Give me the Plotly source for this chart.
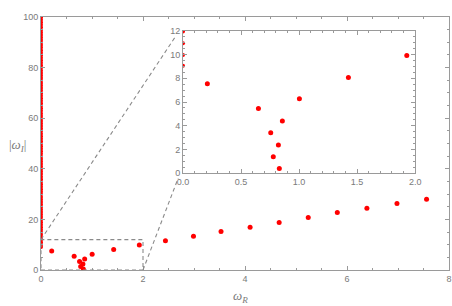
import plotly.graph_objects as go

# Complex modes: real part and |imaginary part|
omega_R = [0.21, 0.65, 0.756, 0.778, 0.822, 0.83, 0.856, 1.003, 1.425, 1.928,
           2.44, 2.99, 3.53, 4.10, 4.67, 5.24, 5.81, 6.39, 6.98, 7.56]
omega_I = [7.55, 5.46, 3.40, 1.38, 2.38, 0.38, 4.39, 6.27, 8.06, 9.92,
           11.6, 13.3, 15.2, 16.9, 18.8, 20.8, 22.7, 24.4, 26.3, 28.0]

# Purely imaginary modes (omega_R = 0)
imag_only = [9.06, 9.96, 10.95, 11.95, 12.9, 13.9, 14.9, 15.9, 16.9, 17.9, 18.9, 19.9,
             20.9, 21.9, 22.9, 23.9, 24.9, 25.9, 26.9, 27.9, 28.9, 29.9,
             30.9, 31.9, 32.9, 33.9, 34.9, 35.9, 36.9, 37.9, 38.9, 39.9,
             40.9, 41.9, 42.9, 43.9, 44.9, 45.9, 46.9, 47.9, 48.9, 49.9,
             50.9, 51.9, 52.9, 53.9, 54.9, 55.9, 56.9, 57.9, 58.9, 59.9,
             60.9, 61.9, 62.9, 63.9, 64.9, 65.9, 66.9, 67.9, 68.9, 69.9,
             70.9, 71.9, 72.9, 73.9, 74.9, 75.9, 76.9, 77.9, 78.9, 79.9,
             80.9, 81.9, 82.9, 83.9, 84.9, 85.9, 86.9, 87.9, 88.9, 89.9,
             90.9, 91.9, 92.9, 93.9, 94.9, 95.9, 96.9, 97.9, 98.9, 99.9]
imag_zero = [0.0] * len(imag_only)

main_xticks = [0, 2, 4, 6, 8]
main_yticks = [0, 20, 40, 60, 80, 100]
inset_xticks = [0.0, 0.5, 1.0, 1.5, 2.0]
inset_yticks = [0, 2, 4, 6, 8, 10, 12]

RED = "#ff0000"
AX = "#9a9a9a"
TXT = "#7a7a7a"
FONT = dict(family="Liberation Sans, Arial, sans-serif", size=9, color=TXT)

fig = go.Figure()
for xa, ya in (("x", "y"), ("x2", "y2")):
    fig.add_trace(go.Scatter(x=imag_zero, y=imag_only, mode="markers", xaxis=xa, yaxis=ya,
                             marker=dict(color=RED, size=4, line=dict(width=0)),
                             showlegend=False))
    fig.add_trace(go.Scatter(x=omega_R, y=omega_I, mode="markers", xaxis=xa, yaxis=ya,
                             marker=dict(color=RED, size=5, line=dict(width=0)),
                             showlegend=False))

def axis_common(**kw):
    d = dict(showgrid=False, zeroline=False, showline=True, linecolor=AX, linewidth=1,
             mirror="allticks", ticks="inside", ticklen=4, tickcolor=AX, tickwidth=1,
             tickfont=FONT, automargin=False)
    d.update(kw)
    return d

fig.update_layout(
    width=452, height=306, autosize=False,
    margin=dict(l=41, r=3, t=17, b=36, autoexpand=False),
    paper_bgcolor="white", plot_bgcolor="white",
    xaxis=axis_common(range=[0, 8], tickvals=main_xticks, domain=[0, 1],
                      minor=dict(ticks="inside", ticklen=2, dtick=0.5, tickcolor=AX)),
    yaxis=axis_common(range=[0, 100], tickvals=main_yticks, domain=[0, 1],
                      minor=dict(ticks="inside", ticklen=2, dtick=5, tickcolor=AX)),
    xaxis2=axis_common(range=[0, 2], tickvals=inset_xticks, tickformat=".1f",
                       domain=[0.348, 0.917], anchor="y2",
                       minor=dict(ticks="inside", ticklen=2, dtick=0.1, tickcolor=AX)),
    yaxis2=axis_common(range=[0, 12], tickvals=inset_yticks,
                       domain=[0.383, 0.945], anchor="x2",
                       minor=dict(ticks="inside", ticklen=2, dtick=0.5, tickcolor=AX)),
)

dash = dict(color="#8a8a8a", width=1.1, dash="4px,3px")
fig.add_shape(type="rect", xref="x", yref="y", x0=0, y0=0, x1=2, y1=12, line=dash)
fig.add_shape(type="line", xref="x", yref="y", x0=0, y0=12, x1=2.65, y1=92.7, line=dash)
fig.add_shape(type="line", xref="x", yref="y", x0=2, y0=0, x1=2.69, y1=36.3, line=dash)

fig.add_annotation(xref="paper", yref="paper", x=-0.033, y=0.494, xanchor="right", yanchor="middle",
                   text="|<i>ω</i><sub><i>I</i></sub>|", showarrow=False,
                   font=dict(family="Liberation Serif, serif", size=13, color=TXT))
fig.add_annotation(xref="paper", yref="paper", x=0.49, y=-0.065, xanchor="center", yanchor="top",
                   text="<i>ω</i><sub><i>R</i></sub>", showarrow=False,
                   font=dict(family="Liberation Serif, serif", size=13, color=TXT))

fig.write_html("out.html", config={"displayModeBar": False},
               post_script="document.body.style.margin='0px';document.body.style.overflow='hidden';")
